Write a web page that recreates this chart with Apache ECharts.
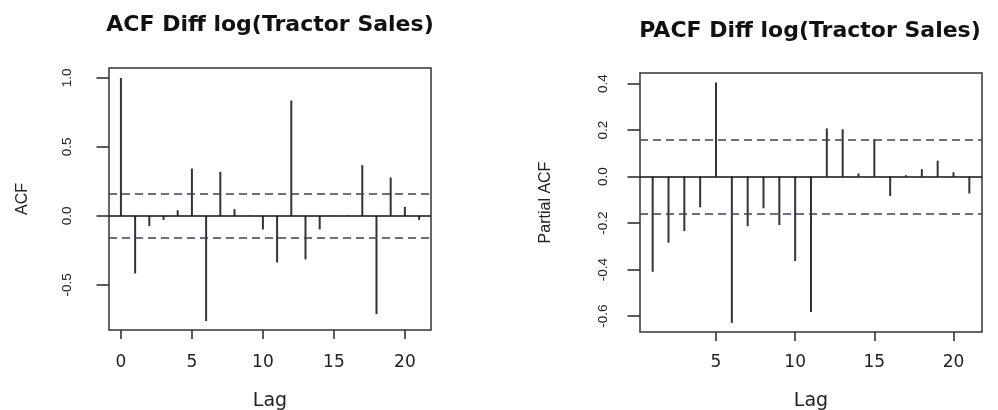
<!DOCTYPE html>
<html>
<head>
<meta charset="utf-8">
<script src="https://cdn.jsdelivr.net/npm/echarts@6/dist/echarts.min.js"></script>
<style>
html,body{margin:0;padding:0;background:#fff;}
#chart{width:998px;height:410px;}
</style>
</head>
<body>
<div id="chart"></div>
<script>
// ---- data ----
const acfLags = [0,1,2,3,4,5,6,7,8,9,10,11,12,13,14,15,16,17,18,19,20,21];
const acfValues = [1.0,-0.418,-0.075,-0.03,0.04,0.343,-0.763,0.319,0.048,0.003,-0.099,-0.338,0.836,-0.316,-0.099,0.002,0.005,0.367,-0.713,0.278,0.065,-0.03];
const pacfLags = [1,2,3,4,5,6,7,8,9,10,11,12,13,14,15,16,17,18,19,20,21];
const pacfValues = [-0.409,-0.284,-0.234,-0.132,0.405,-0.629,-0.213,-0.136,-0.208,-0.363,-0.582,0.208,0.204,0.014,0.162,-0.083,0.006,0.032,0.069,0.019,-0.072];
const ciBounds = [0.164, -0.164];
const xTicks = [0,5,10,15,20];
const xTicksPacf = [5,10,15,20];
const acfYTicks = [-0.5,0,0.5,1.0];
const pacfYTicks = [-0.6,-0.4,-0.2,0,0.2,0.4];
const titles = ['ACF Diff log(Tractor Sales)','PACF Diff log(Tractor Sales)'];
const yNames = ['ACF','Partial ACF'];
const xName = 'Lag';

const chart = echarts.init(document.getElementById('chart'), null, {renderer:'canvas'});

const tickStyle = {color:'#333', width:1.6};
function xAxisCfg(idx, min, max, ticks, margin, nameGap){
  return {
    type:'value', gridIndex:idx, min:min, max:max, position:'bottom',
    axisLine:{show:false, onZero:false}, splitLine:{show:false},
    axisTick:{show:true, inside:false, length:9, lineStyle:tickStyle, customValues:ticks},
    axisLabel:{show:true, customValues:ticks, margin:margin, fontSize:17, fontFamily:'DejaVu Sans', color:'#222'},
    name:xName, nameLocation:'middle', nameGap:nameGap,
    nameTextStyle:{fontSize:19, fontFamily:'DejaVu Sans', color:'#222'}
  };
}
function yAxisCfg(idx, min, max, ticks, name, margin, nameGap){
  return {
    type:'value', gridIndex:idx, min:min, max:max, position:'left',
    axisLine:{show:false, onZero:false}, splitLine:{show:false},
    axisTick:{show:true, inside:false, length:12.5, lineStyle:tickStyle, customValues:ticks},
    axisLabel:{show:true, customValues:ticks, rotate:90, margin:margin, fontSize:13.5,
      fontFamily:'Liberation Sans', color:'#222', formatter:v=>Number(v).toFixed(1)},
    name:name, nameLocation:'middle', nameRotate:90, nameGap:nameGap,
    nameTextStyle:{fontSize:16, fontFamily:'Liberation Sans', color:'#222'}
  };
}
function refLines(){
  return {
    silent:true, symbol:['none','none'], label:{show:false}, animation:false,
    data:[
      {yAxis:0, lineStyle:{color:'#111', width:1.5, type:'solid'}},
      {yAxis:ciBounds[0], lineStyle:{color:'#3f3f62', width:1.5, type:[8,5]}},
      {yAxis:ciBounds[1], lineStyle:{color:'#3f3f62', width:1.5, type:[8,5]}}
    ]
  };
}

const option = {
  animation:false,
  backgroundColor:'#fff',
  grid:[
    {left:109, top:68, width:322, height:262, show:true, borderColor:'#333', borderWidth:1.5, backgroundColor:'transparent', containLabel:false, outerBoundsMode:'none'},
    {left:640, top:73, width:342, height:259, show:true, borderColor:'#333', borderWidth:1.5, backgroundColor:'transparent', containLabel:false, outerBoundsMode:'none'}
  ],
  xAxis:[
    xAxisCfg(0, -0.84, 21.84, xTicks, 24, 62),
    xAxisCfg(1, 0.2, 21.8, xTicksPacf, 22, 60)
  ],
  yAxis:[
    yAxisCfg(0, -0.828, 1.072, acfYTicks, yNames[0], 35, 78),
    yAxisCfg(1, -0.668, 0.446, pacfYTicks, yNames[1], 30, 86)
  ],
  graphic:[
    {type:'text', x:270, y:25, style:{text:titles[0], align:'center', verticalAlign:'middle', font:'bold 22px "DejaVu Sans"', fill:'#111'}},
    {type:'text', x:810, y:31, style:{text:titles[1], align:'center', verticalAlign:'middle', font:'bold 22px "DejaVu Sans"', fill:'#111'}}
  ],
  series:[
    {type:'bar', xAxisIndex:0, yAxisIndex:0, barWidth:2, itemStyle:{color:'#333'},
     data:acfLags.map((l,i)=>[l, acfValues[i]]), markLine:refLines()},
    {type:'bar', xAxisIndex:1, yAxisIndex:1, barWidth:2, itemStyle:{color:'#333'},
     data:pacfLags.map((l,i)=>[l, pacfValues[i]]), markLine:refLines()}
  ]
};
chart.setOption(option);
</script>
</body>
</html>
